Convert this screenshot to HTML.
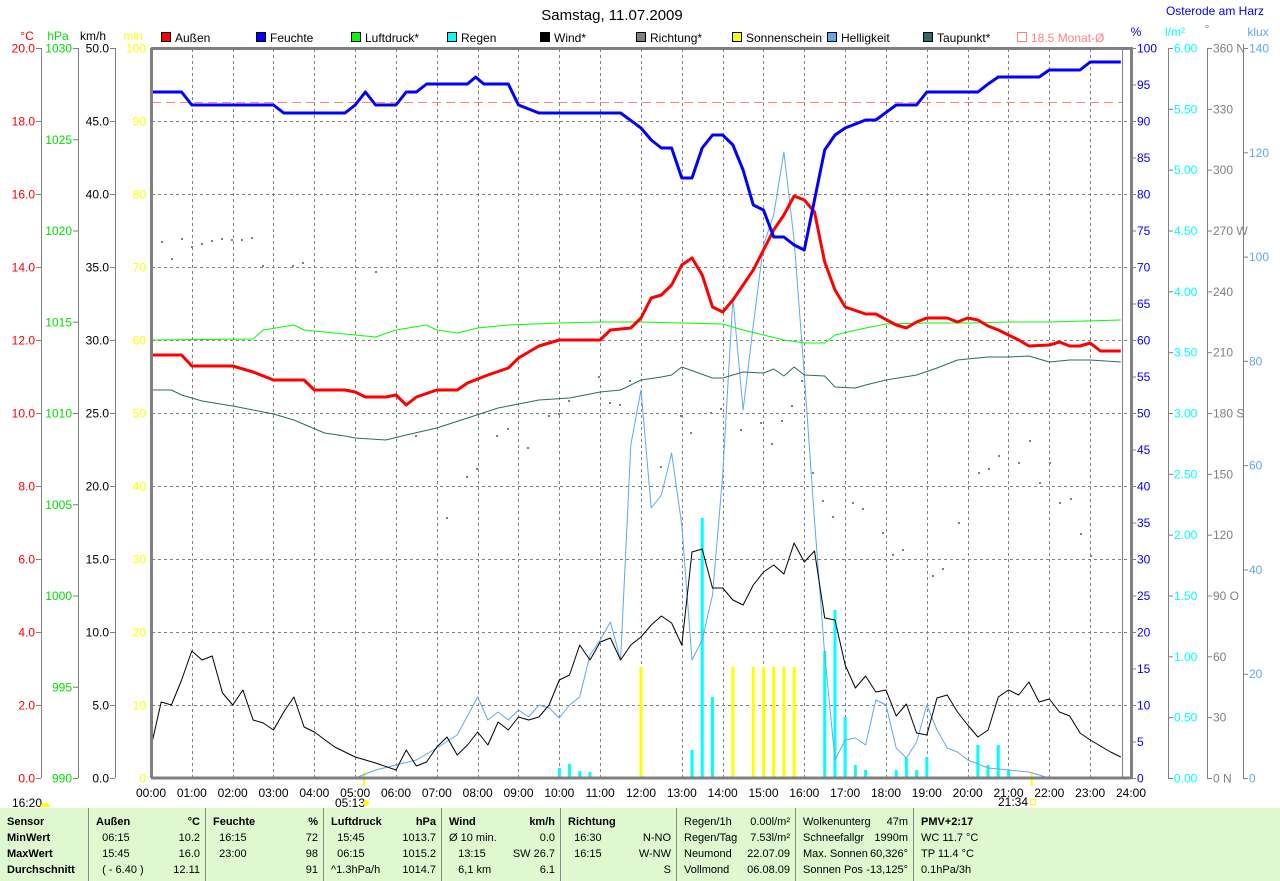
<!DOCTYPE html>
<html><head><meta charset="utf-8"><style>
body{margin:0;background:#fff;width:1280px;height:881px;overflow:hidden;font-family:"Liberation Sans",sans-serif;}
svg text{font-family:"Liberation Sans",sans-serif;font-size:12px;}
#tbl{position:absolute;left:0;top:808px;width:1280px;height:73px;background:#e0f8d0;font-size:11px;}
.c{position:absolute;top:0;height:73px;border-right:1px solid #888;}
.r{position:absolute;left:0;right:0;height:16px;line-height:16px;white-space:nowrap}
.b{font-weight:bold}
</style></head><body>
<svg id="s" width="1280" height="808" style="position:absolute;left:0;top:0"></svg>
<div id="tbl"></div>
<script>
const S=document.getElementById('s');let h='';
const X=t=>151+t*40.833, Y0=778, PH=730;
function tx(x,y,t,c,a,extra){h+=`<text x="${x}" y="${y}" fill="${c}" text-anchor="${a||'start'}" ${extra||''}>${t}</text>`;}
tx(612,20,'Samstag, 11.07.2009','#000','middle','style="font-size:15px"');
tx(1215,15,'Osterode am Harz','#0000ff','middle','style="font-size:12px"');
tx(27,40,'°C','#ff0000','middle');tx(58,40,'hPa','#00dd00','middle');tx(93,40,'km/h','#000','middle');tx(133,40,'min','#ffff00','middle');
tx(1136,36,'%','#0000ff','middle');tx(1175,36,'l/m²','#00ffff','middle');tx(1207,33,'°','#808080','middle');tx(1258,36,'klux','#60a8f0','middle');
const lg=[['Außen','#ff0000',162],['Feuchte','#0000ff',257],['Luftdruck*','#00ff00',352],['Regen','#00ffff',448],['Wind*','#000000',541],['Richtung*','#808080',637],['Sonnenschein','#ffff00',733],['Helligkeit','#60a8f0',828],['Taupunkt*','#306868',924]];
lg.forEach(l=>{h+=`<rect x="${l[2]-0.5}" y="32.5" width="9" height="9" fill="${l[1]}" stroke="#000"/>`;tx(l[2]+13,42,l[0],'#000');});
h+=`<rect x="1017.5" y="32.5" width="9" height="9" fill="none" stroke="#ff8080"/>`;tx(1031,42,'18.5 Monat-Ø','#ff8080');
for(let i=1;i<10;i++){let y=48+i*73;h+=`<line x1="152" y1="${y+.5}" x2="1130" y2="${y+.5}" stroke="#808080" stroke-dasharray="3,3"/>`;}
for(let i=1;i<24;i++){let x=Math.round(X(i))+.5;h+=`<line x1="${x}" y1="49" x2="${x}" y2="777" stroke="#808080" stroke-dasharray="3,3"/>`;}
h+=`<line x1="1122.5" y1="48" x2="1122.5" y2="778" stroke="#808080"/>`;
h+=`<line x1="152" y1="102.5" x2="1122" y2="102.5" stroke="#ff8080" stroke-dasharray="9,5"/>`;
function axis(x,vals,col,step,lab){h+=`<line x1="${x+.5}" y1="48" x2="${x+.5}" y2="778" stroke="#808080"/>`;vals.forEach((v,i)=>{let y=48+i*step;h+=`<line x1="${x-5}" y1="${y+.5}" x2="${x}" y2="${y+.5}" stroke="#808080"/>`;tx(x-6,y+4.5,v,col,'end');});}
function raxis(x,vals,col,step,extra){h+=`<line x1="${x+.5}" y1="48" x2="${x+.5}" y2="778" stroke="#808080"/>`;vals.forEach((v,i)=>{let y=48+i*step;h+=`<line x1="${x}" y1="${y+.5}" x2="${x+5}" y2="${y+.5}" stroke="#808080"/>`;tx(x+6,y+4.5,v,col,'start');});}
let a=[];for(let i=0;i<=10;i++)a.push((20-2*i).toFixed(1));axis(41,a,'#ff0000',73);
a=[];for(let i=0;i<=8;i++)a.push(1030-5*i);axis(78,a,'#00dd00',91.25);
a=[];for(let i=0;i<=10;i++)a.push((50-5*i).toFixed(1));axis(115,a,'#000',73);
for(let i=0;i<=10;i++)tx(146,48+i*73+4.5,100-10*i,'#ffff00','end');
a=[];for(let i=0;i<=20;i++)a.push(100-5*i);
a.forEach((v,i)=>{let y=48+i*36.5;h+=`<line x1="1131" y1="${y+.5}" x2="1136" y2="${y+.5}" stroke="#808080"/>`;tx(1137,y+4.5,v,'#0000ff');});
a=[];for(let i=0;i<=12;i++)a.push((6-0.5*i).toFixed(2));raxis(1168,a,'#00ffff',60.833);
const dg=['360 N',330,300,'270 W',240,210,'180 S',150,120,'90 O',60,30,'0 N'];raxis(1207,dg,'#808080',60.833);
a=[];for(let i=0;i<=7;i++)a.push(140-20*i);raxis(1243,a,'#60a8f0',104.29);
for(let i=0;i<=24;i++)tx(X(i),797,(i<10?'0':'')+i+':00','#000','middle');
tx(12,807,'16:20','#000');h+=`<path d="M40 807 a5 4 0 0 1 10 0z" fill="#ffff00"/>`;
tx(335,807,'05:13','#000');h+=`<circle cx="366" cy="803" r="3" fill="#ffff00"/>`;
tx(998,806,'21:34','#000');h+=`<rect x="1030.5" y="799.5" width="5" height="5" fill="none" stroke="#ffff00"/>`;
h+=`<line x1="${X(5.22)}" y1="772" x2="${X(5.22)}" y2="786" stroke="#ffff00" stroke-width="2"/>`;
h+=`<line x1="${X(21.57)}" y1="772" x2="${X(21.57)}" y2="786" stroke="#ffff00" stroke-width="2"/>`;
function bar(t,y,c){let x=X(t);h+=`<line x1="${x}" y1="777" x2="${x}" y2="${y}" stroke="${c}" stroke-width="3"/>`;}
[[10,768],[10.25,764],[10.5,771],[10.75,772],[13.25,750],[13.5,518],[13.75,697],[16.5,651],[16.75,610],[17,717],[17.25,765],[17.5,770],[18.25,770],[18.5,758],[18.75,770],[19,757],[20.25,745],[20.5,765],[20.75,745],[21,770]].forEach(b=>bar(b[0],b[1],'#00ffff'));
[12,14.25,14.75,15,15.25,15.5,15.75].forEach(t=>bar(t,667,'#ffff00'));
[[161,241],[171,258],[181,238],[191,246],[201,243],[211,240],[221,238],[231,239],[241,239],[251,237],[262,265],[292,265],[302,262],[375,271],[415,435],[446,517],[466,476],[476,468],[496,435],[507,428],[527,447],[548,415],[558,413],[568,400],[598,376],[609,402],[619,404],[629,380],[660,466],[680,415],[690,432],[710,412],[720,408],[740,429],[760,422],[771,443],[781,420],[791,405],[801,380],[812,472],[822,500],[832,516],[852,502],[862,508],[882,532],[892,554],[902,549],[932,575],[942,568],[958,522],[978,472],[988,468],[998,455],[1018,462],[1029,440],[1039,482],[1049,462],[1059,502],[1070,498],[1080,533],[1090,555]].forEach(d=>{h+=`<rect x="${d[0]}" y="${d[1]}" width="2" height="2" fill="#808080"/>`;});
function line(pts,c,w){h+=`<polyline fill="none" stroke="${c}" stroke-width="${w}" stroke-linejoin="round" points="${pts.map(p=>X(p[0]).toFixed(1)+','+p[1]).join(' ')}"/>`;}
line([[5,778],[5.5,770],[6,765],[6.5,760],[7,748],[7.5,735],[8,697],[8.25,720],[8.5,712],[8.75,720],[9,710],[9.25,717],[9.5,705],[9.75,708],[10,718],[10.25,705],[10.5,697],[10.75,655],[11,640],[11.25,622],[11.5,660],[11.75,445],[12,390],[12.25,508],[12.5,495],[12.75,453],[13,525],[13.25,660],[13.5,640],[13.75,595],[14,475],[14.25,298],[14.5,410],[14.75,325],[15,245],[15.25,215],[15.5,152],[15.75,240],[16,375],[16.25,520],[16.5,655],[16.75,760],[17,740],[17.25,738],[17.5,745],[17.75,700],[18,705],[18.25,748],[18.5,758],[18.75,742],[19,705],[19.25,730],[19.5,748],[19.75,752],[20,760],[20.5,768],[21,770],[21.5,772],[22,778]],'#60a8f0',1);
line([[0,747],[0.25,702],[0.5,705],[0.75,680],[1,651],[1.25,660],[1.5,656],[1.75,693],[2,705],[2.25,690],[2.5,720],[2.75,723],[3,730],[3.25,712],[3.5,697],[3.75,727],[4,732],[4.5,747],[5,757],[5.5,763],[6,770],[6.25,750],[6.5,766],[6.75,762],[7,747],[7.25,737],[7.5,755],[7.75,745],[8,732],[8.25,745],[8.5,722],[8.75,730],[9,717],[9.25,720],[9.5,717],[9.75,705],[10,680],[10.25,675],[10.5,645],[10.75,660],[11,642],[11.25,638],[11.5,660],[11.75,645],[12,637],[12.25,625],[12.5,616],[12.75,623],[13,645],[13.25,552],[13.5,549],[13.75,588],[14,588],[14.25,600],[14.5,605],[14.75,585],[15,572],[15.25,565],[15.5,574],[15.75,543],[16,562],[16.25,551],[16.5,618],[16.75,620],[17,665],[17.25,688],[17.5,676],[17.75,692],[18,690],[18.25,716],[18.5,704],[18.75,733],[19,735],[19.25,698],[19.5,695],[19.75,712],[20,725],[20.25,737],[20.5,730],[20.75,697],[21,690],[21.25,695],[21.5,682],[21.75,702],[22,699],[22.25,712],[22.5,716],[22.75,733],[23,740],[23.5,752],[23.75,757]],'#000',1);
line([[0,390],[0.5,390],[0.75,395],[1.25,401],[2,406],[3,414],[3.5,420],[4.25,433],[4.75,436],[5,438],[5.75,440],[6.25,435],[7,428],[7.75,418],[8.5,408],[9,404],[9.5,400],[10.25,398],[11,392],[11.5,390],[12,380],[12.5,377],[12.75,375],[13,367],[13.75,378],[14,378],[14.5,372],[15,373],[15.25,369],[15.5,376],[15.75,367],[16,375],[16.5,376],[16.75,387],[17.25,388],[17.5,385],[18,380],[18.75,375],[19.25,368],[19.75,360],[20.5,357],[21,357],[21.5,356],[22,362],[22.5,360],[23,360],[23.75,362]],'#306868',1);
line([[0,340],[2.5,339],[2.75,330],[3.5,325],[3.75,330],[4.75,334],[5.5,337],[6,330],[6.75,325],[7,330],[7.5,333],[8,328],[8.75,325],[10,323],[11,322],[12,322],[13,323],[14,324],[14.5,330],[15.5,340],[16,343],[16.5,343],[16.75,335],[17.5,328],[18,324],[19,323],[20,323],[21,322],[22,322],[23.75,320]],'#00ff00',1);
line([[0,355],[0.75,355],[1,366],[2,366],[2.5,372],[3,380],[3.75,380],[4,390],[4.75,390],[5,392],[5.25,397],[5.75,397],[6,395],[6.25,405],[6.5,397],[7,390],[7.5,390],[7.75,383],[8.25,375],[8.75,368],[9,358],[9.5,346],[10,340],[11,340],[11.25,330],[11.75,328],[12,318],[12.25,298],[12.5,295],[12.75,285],[13,265],[13.25,258],[13.5,275],[13.75,307],[14,312],[14.25,300],[14.75,270],[15,250],[15.25,230],[15.5,215],[15.75,196],[16,200],[16.25,212],[16.5,262],[16.75,290],[17,307],[17.5,314],[17.75,314],[18.25,325],[18.5,328],[18.75,322],[19,318],[19.5,318],[19.75,322],[20,318],[20.25,320],[20.5,326],[20.75,330],[21.25,340],[21.5,346],[22,345],[22.25,342],[22.5,346],[22.75,346],[23,343],[23.25,351],[23.75,351]],'#ff0000',3);
line([[0,92],[0.75,92],[1,105],[3,105],[3.25,113],[4.75,113],[5,105],[5.25,92],[5.5,105],[6,105],[6.25,92],[6.5,92],[6.75,84],[7.75,84],[7.95,77],[8.15,84],[8.75,84],[9,105],[9.5,113],[11.5,113],[12,128],[12.25,140],[12.5,148],[12.75,148],[13,178],[13.25,178],[13.5,148],[13.75,135],[14,135],[14.25,145],[14.5,170],[14.75,205],[15,210],[15.25,237],[15.5,237],[15.75,245],[16,250],[16.25,200],[16.5,150],[16.75,135],[17,128],[17.5,120],[17.75,120],[18.25,105],[18.75,105],[19,92],[20.25,92],[20.5,84],[20.75,77],[21.75,77],[22,70],[22.75,70],[23,62],[23.75,62]],'#0000ff',3);
h+=`<path d="M151 48.5 H1131.5 V778 M151.5 48 V778 M151 778 H1131.5" fill="none" stroke="#808080" stroke-width="3"/>`;
S.innerHTML=h;
const cols=[[0,89,[['<b>Sensor</b>',''],['<b>MinWert</b>',''],['<b>MaxWert</b>',''],['<b>Durchschnitt</b>','']]],
[89,206,[['<b>Außen</b>','<b>°C</b>'],['&nbsp;&nbsp;06:15','10.2'],['&nbsp;&nbsp;15:45','16.0'],['&nbsp;&nbsp;( - 6.40 )','12.11']]],
[206,324,[['<b>Feuchte</b>','<b>%</b>'],['&nbsp;&nbsp;16:15','72'],['&nbsp;&nbsp;23:00','98'],['','91']]],
[324,442,[['<b>Luftdruck</b>','<b>hPa</b>'],['&nbsp;&nbsp;15:45','1013.7'],['&nbsp;&nbsp;06:15','1015.2'],['^1.3hPa/h','1014.7']]],
[442,561,[['<b>Wind</b>','<b>km/h</b>'],['Ø 10 min.','0.0'],['&nbsp;&nbsp;&nbsp;13:15','SW 26.7'],['&nbsp;&nbsp;&nbsp;6,1 km','6.1']]],
[561,677,[['<b>Richtung</b>',''],['&nbsp;&nbsp;16:30','N-NO'],['&nbsp;&nbsp;16:15','W-NW'],['','S']]],
[677,796,[['Regen/1h','0.00l/m²'],['Regen/Tag','7.53l/m²'],['Neumond','22.07.09'],['Vollmond','06.08.09']]],
[796,914,[['Wolkenunterg','47m'],['Schneefallgr','1990m'],['Max. Sonnen','60,326°'],['Sonnen Pos','-13,125°']]],
[914,1280,[['<b>PMV+2:17</b>',''],['WC 11.7 °C',''],['TP 11.4 °C',''],['0.1hPa/3h','']]]];
let t='';cols.forEach((c,i)=>{t+=`<div class="c" style="left:${c[0]}px;width:${c[1]-c[0]-1}px;${i==8?'border:none':''}">`;
c[2].forEach((r,j)=>{t+=`<div class="r" style="top:${6+j*16}px"><span style="position:absolute;left:7px">${r[0]}</span><span style="position:absolute;right:5px">${r[1]}</span></div>`;});t+='</div>';});
document.getElementById('tbl').innerHTML=t;
</script>
</body></html>
